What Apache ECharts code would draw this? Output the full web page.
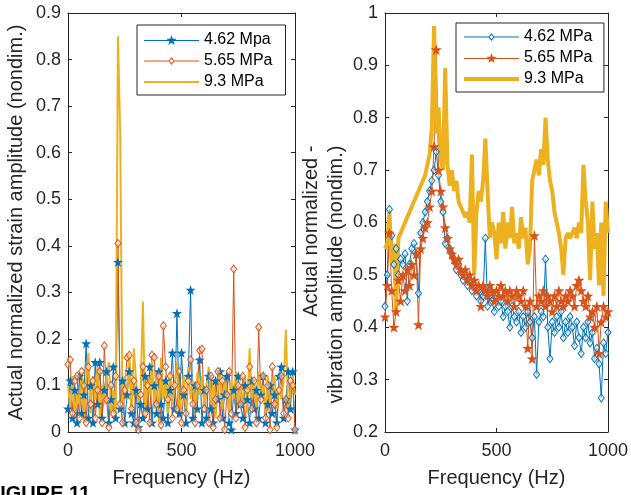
<!DOCTYPE html>
<html><head><meta charset="utf-8">
<script src="https://cdn.jsdelivr.net/npm/echarts@6/dist/echarts.min.js"></script>
<style>html,body{margin:0;padding:0;background:#fff}#c{width:631px;height:495px}</style>
</head><body><div id="c"></div>
<script>
// Frequency axis (Hz)
const freq = [0,10,20,30,40,50,60,70,80,90,100,110,120,130,140,150,160,170,180,190,200,210,220,230,240,250,260,270,280,290,300,310,320,330,340,350,360,370,380,390,400,410,420,430,440,450,460,470,480,490,500,510,520,530,540,550,560,570,580,590,600,610,620,630,640,650,660,670,680,690,700,710,720,730,740,750,760,770,780,790,800,810,820,830,840,850,860,870,880,890,900,910,920,930,940,950,960,970,980,990,1000];

// Left panel: strain amplitude
const strain462 = [0.05,0.11,0.03,0.09,0.02,0.12,0.04,0.08,0.19,0.03,0.10,0.02,0.15,0.06,0.15,0.03,0.09,0.13,0.02,0.07,0.14,0.03,0.365,0.05,0.11,0.02,0.08,0.13,0.04,0.02,0.09,0.01,0.06,0.03,0.12,0.05,0.14,0.02,0.10,0.04,0.13,0.06,0.03,0.11,0.02,0.09,0.17,0.05,0.255,0.04,0.17,0.08,0.02,0.12,0.305,0.03,0.10,0.05,0.155,0.02,0.09,0.03,0.12,0.05,0.02,0.11,0.07,0.13,0.03,0.08,0.12,0.02,0.005,0.09,0.04,0.12,0.06,0.03,0.10,0.07,0.02,0.11,0.05,0.09,0.03,0.08,0.12,0.02,0.06,0.10,0.04,0.08,0.02,0.12,0.14,0.03,0.07,0.13,0.05,0.13,0.005];
const strain565 = [0.145,0.155,0.04,0.11,0.12,0.03,0.13,0.10,0.02,0.14,0.06,0.11,0.03,0.09,0.13,0.02,0.185,0.07,0.01,0.10,0.04,0.12,0.405,0.06,0.02,0.09,0.16,0.165,0.05,0.11,0.02,0.005,0.08,0.14,0.04,0.10,0.02,0.165,0.16,0.06,0.12,0.015,0.228,0.14,0.07,0.12,0.03,0.10,0.05,0.13,0.02,0.09,0.04,0.11,0.155,0.06,0.02,0.10,0.175,0.178,0.05,0.09,0.02,0.12,0.01,0.07,0.13,0.03,0.11,0.005,0.08,0.13,0.04,0.35,0.03,0.10,0.06,0.12,0.01,0.09,0.14,0.05,0.11,0.02,0.225,0.07,0.12,0.03,0.10,0.005,0.14,0.06,0.01,0.09,0.12,0.04,0.07,0.03,0.11,0.10,0.005];
const strain93 = [0.10,0.05,0.12,0.03,0.09,0.06,0.13,0.02,0.11,0.17,0.04,0.12,0.07,0.14,0.03,0.10,0.06,0.12,0.15,0.04,0.09,0.03,0.85,0.64,0.05,0.12,0.07,0.17,0.04,0.18,0.11,0.06,0.09,0.28,0.03,0.12,0.08,0.15,0.05,0.13,0.02,0.16,0.07,0.11,0.04,0.13,0.06,0.10,0.15,0.03,0.09,0.12,0.05,0.14,0.07,0.11,0.04,0.13,0.08,0.12,0.05,0.10,0.14,0.06,0.11,0.03,0.09,0.13,0.05,0.12,0.08,0.04,0.11,0.07,0.13,0.05,0.10,0.06,0.12,0.04,0.18,0.07,0.11,0.05,0.13,0.08,0.10,0.04,0.12,0.06,0.09,0.12,0.05,0.10,0.07,0.11,0.22,0.04,0.09,0.12,0.08];

// Right panel: vibration amplitude
const vib462 = [0.44,0.50,0.625,0.575,0.52,0.55,0.50,0.53,0.52,0.54,0.45,0.52,0.55,0.56,0.54,0.465,0.58,0.60,0.62,0.64,0.66,0.68,0.70,0.735,0.69,0.64,0.62,0.56,0.57,0.55,0.54,0.53,0.51,0.52,0.50,0.49,0.50,0.48,0.49,0.47,0.48,0.46,0.47,0.45,0.46,0.57,0.44,0.46,0.45,0.43,0.46,0.44,0.45,0.42,0.44,0.43,0.40,0.44,0.42,0.41,0.43,0.39,0.42,0.40,0.43,0.41,0.38,0.42,0.31,0.41,0.43,0.42,0.53,0.40,0.34,0.41,0.39,0.42,0.40,0.43,0.38,0.41,0.39,0.42,0.40,0.365,0.41,0.38,0.35,0.40,0.38,0.41,0.37,0.39,0.34,0.36,0.33,0.265,0.37,0.35,0.39];
const vib565 = [0.42,0.48,0.58,0.47,0.40,0.43,0.49,0.45,0.50,0.47,0.51,0.48,0.52,0.50,0.54,0.405,0.55,0.57,0.59,0.60,0.63,0.66,0.745,0.93,0.70,0.66,0.63,0.59,0.57,0.55,0.54,0.53,0.52,0.53,0.51,0.50,0.51,0.49,0.50,0.48,0.49,0.47,0.48,0.44,0.48,0.47,0.46,0.48,0.47,0.45,0.47,0.46,0.48,0.46,0.47,0.45,0.47,0.46,0.44,0.47,0.46,0.45,0.47,0.44,0.36,0.45,0.34,0.575,0.44,0.46,0.45,0.47,0.44,0.46,0.45,0.43,0.46,0.44,0.47,0.45,0.44,0.46,0.45,0.47,0.46,0.44,0.48,0.49,0.47,0.45,0.44,0.46,0.42,0.43,0.40,0.44,0.35,0.41,0.44,0.42,0.43];
const vib93 = [0.55,0.56,0.62,0.52,0.56,0.43,0.57,0.58,0.59,0.60,0.61,0.62,0.63,0.64,0.65,0.66,0.67,0.68,0.69,0.71,0.73,0.78,0.975,0.77,0.82,0.72,0.70,0.895,0.71,0.67,0.70,0.66,0.68,0.64,0.63,0.62,0.61,0.62,0.60,0.73,0.50,0.62,0.66,0.64,0.68,0.76,0.66,0.57,0.60,0.58,0.53,0.60,0.56,0.62,0.55,0.60,0.57,0.63,0.56,0.58,0.55,0.61,0.57,0.59,0.52,0.55,0.68,0.70,0.72,0.69,0.74,0.71,0.80,0.72,0.68,0.66,0.62,0.60,0.58,0.55,0.50,0.57,0.58,0.57,0.58,0.59,0.57,0.60,0.58,0.71,0.64,0.60,0.49,0.64,0.55,0.58,0.48,0.60,0.46,0.64,0.58];

// Tick values
const xTicks = [0, 500, 1000];
const leftYRange = [0, 0.9];
const rightYRange = [0.2, 1];

const B = '#0072BD', O = '#D95319', Y = '#EDB120', AX = '#262626';
const FONT = 'Liberation Sans';
const STAR = 'path://M0,-10L2.35,-3.24L9.51,-3.09L3.8,1.24L5.88,8.09L0,4L-5.88,8.09L-3.8,1.24L-9.51,-3.09L-2.35,-3.24Z';
// legend icons (line + marker)
const LG_STAR = 'path://M0,-0.5L55,-0.5L55,0.5L0,0.5Z M27.5,-5.5L28.79,-1.78L32.73,-1.70L29.59,0.68L30.73,4.45L27.5,2.2L24.27,4.45L25.41,0.68L22.27,-1.70L26.21,-1.78Z';
const LG_DIAM = 'path://M0,-0.5L25,-0.5L25,0.5L0,0.5Z M30,-0.5L55,-0.5L55,0.5L30,0.5Z M27.5,-4L30.5,0L27.5,4L24.5,0Z M27.5,-2.33L25.75,0L27.5,2.33L29.25,0Z';
const LG_LINE2 = 'path://M0,0L55,0L55,2L0,2Z';
const LG_LINE4 = 'path://M0,0L55,0L55,4L0,4Z';

const pairs = v => freq.map((f, i) => [f, v[i]]);

const chart = echarts.init(document.getElementById('c'), null, {renderer: 'canvas'});

function xAx(grid, pos, labels, name) {
  return {
    type: 'value', gridIndex: grid, position: pos, min: xTicks[0], max: xTicks[2], interval: xTicks[1] - xTicks[0],
    axisLine: {show: true, onZero: false, lineStyle: {color: AX, width: 1}},
    axisTick: {show: true, inside: true, length: 4, lineStyle: {color: AX}},
    axisLabel: {show: labels, fontSize: 18, fontFamily: FONT, color: AX, margin: 10, formatter: v => String(v)},
    splitLine: {show: false},
    name: name || '', nameLocation: 'middle', nameGap: 36,
    nameTextStyle: {fontSize: 20, fontFamily: FONT, color: AX}
  };
}
function yAx(grid, pos, labels, range, name, gap, extra) {
  return {
    type: 'value', gridIndex: grid, position: pos, min: range[0], max: range[1], interval: 0.1,
    axisLine: {show: true, onZero: false, lineStyle: {color: AX, width: 1}},
    axisTick: {show: true, inside: true, length: 4, lineStyle: {color: AX}},
    axisLabel: {show: labels, fontSize: 18, fontFamily: FONT, color: AX, margin: 7, formatter: v => String(+(+v).toFixed(1))},
    splitLine: {show: false},
    name: name || '', nameLocation: 'middle', nameGap: gap || 40,
    nameTextStyle: Object.assign({fontSize: 20, fontFamily: FONT, color: AX}, extra || {})
  };
}

const legendCommon = {
  orient: 'vertical', selectedMode: false, itemWidth: 55, itemHeight: 16, itemGap: 5,
  borderColor: AX, borderWidth: 1, backgroundColor: '#fff',
  textStyle: {fontSize: 16, fontFamily: FONT, color: '#000'}
};

chart.setOption({
  animation: false,
  backgroundColor: '#fff',
  grid: [
    {left: 68, top: 13, width: 227, height: 419},
    {left: 385, top: 13, width: 227, height: 419}
  ],
  xAxis: [
    xAx(0, 'bottom', true, 'Frequency (Hz)'),
    xAx(0, 'top', false),
    xAx(1, 'bottom', true, 'Frequency (Hz)'),
    xAx(1, 'top', false)
  ],
  yAxis: [
    yAx(0, 'left', true, leftYRange, 'Actual normalized strain amplitude (nondim.)', 42),
    yAx(0, 'right', false, leftYRange),
    yAx(1, 'left', true, rightYRange, '{a|Actual normalized -}\n{a|vibration amplitude (nondim.)}', 22,
        {lineHeight: 25, padding: [0, 104, 0, 0],
         rich: {a: {fontSize: 20, fontFamily: FONT, color: AX, lineHeight: 25, align: 'right'}}}),
    yAx(1, 'right', false, rightYRange)
  ],
  legend: [
    Object.assign({}, legendCommon, {left: 137, top: 25, padding: [7, 13, 5, 7],
      data: [
        {name: '4.62 Mpa', icon: LG_STAR, itemStyle: {color: B, borderWidth: 0}},
        {name: '5.65 MPa', icon: LG_DIAM, itemStyle: {color: O, borderWidth: 0}},
        {name: '9.3 MPa', icon: LG_LINE2, itemStyle: {color: Y, borderWidth: 0}}
      ]}),
    Object.assign({}, legendCommon, {left: 456, top: 23, padding: [6, 7, 5, 8],
      data: [
        {name: '4.62 MPa', icon: LG_DIAM, itemStyle: {color: B, borderWidth: 0}},
        {name: '5.65 MPa ', icon: LG_STAR, itemStyle: {color: O, borderWidth: 0}},
        {name: '9.3 MPa ', icon: LG_LINE4, itemStyle: {color: Y, borderWidth: 0}}
      ]})
  ],
  series: [
    {name: '4.62 Mpa', type: 'line', xAxisIndex: 0, yAxisIndex: 0, data: pairs(strain462),
     symbol: STAR, symbolSize: 10, showAllSymbol: true,
     lineStyle: {color: B, width: 1}, itemStyle: {color: B, borderWidth: 0}},
    {name: '5.65 MPa', type: 'line', xAxisIndex: 0, yAxisIndex: 0, data: pairs(strain565),
     symbol: 'diamond', symbolSize: [6, 8], showAllSymbol: true,
     lineStyle: {color: O, width: 1}, itemStyle: {color: 'rgba(255,255,255,0.5)', borderColor: O, borderWidth: 1}},
    {name: '9.3 MPa', type: 'line', xAxisIndex: 0, yAxisIndex: 0, data: pairs(strain93),
     symbol: 'none', lineStyle: {color: Y, width: 2}, itemStyle: {color: Y}},

    {name: '4.62 MPa', type: 'line', xAxisIndex: 2, yAxisIndex: 2, data: pairs(vib462),
     symbol: 'diamond', symbolSize: [6, 8], showAllSymbol: true,
     lineStyle: {color: B, width: 1}, itemStyle: {color: 'rgba(255,255,255,0.5)', borderColor: B, borderWidth: 1}},
    {name: '5.65 MPa ', type: 'line', xAxisIndex: 2, yAxisIndex: 2, data: pairs(vib565),
     symbol: STAR, symbolSize: 11, showAllSymbol: true,
     lineStyle: {color: O, width: 1}, itemStyle: {color: O, borderWidth: 0}},
    {name: '9.3 MPa ', type: 'line', xAxisIndex: 2, yAxisIndex: 2, data: pairs(vib93),
     symbol: 'none', lineStyle: {color: Y, width: 4}, itemStyle: {color: Y}}
  ],
  graphic: [
    {type: 'text', left: -12, top: 484, silent: true,
     style: {text: 'FIGURE 11', fontSize: 20, fontWeight: 'bold', fontFamily: FONT, fill: '#000'}}
  ]
});
</script>
</body></html>
